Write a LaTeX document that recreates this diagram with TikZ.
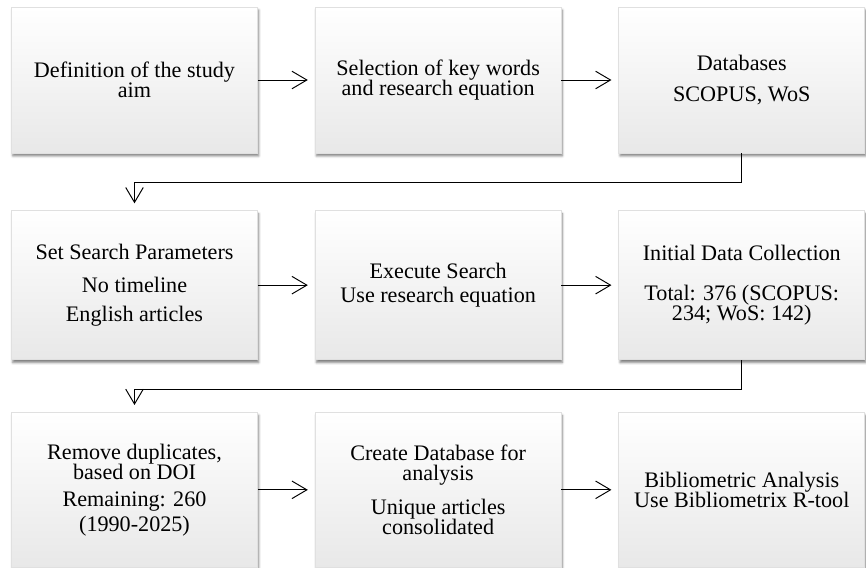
\documentclass[tikz,border=0pt]{standalone}
\usepackage{fontspec}
\setmainfont{Liberation Serif}
\usetikzlibrary{positioning,shadows.blur,arrows.meta}

\begin{document}
\begin{tikzpicture}[
    x=0.02cm, y=-0.02cm,
    node distance=1.14cm,
    every node/.style={align=center, font=\fontsize{12.6}{11.6}\selectfont},
    stage/.style={rectangle, draw=black!12, top color=white, bottom color=black!9,
        minimum width=4.92cm, minimum height=2.92cm, inner sep=2pt,
        blur shadow={shadow xshift=0.7pt, shadow yshift=-1.7pt, shadow blur radius=1.3pt, shadow opacity=50}},
    flow/.style={-{Straight Barb[length=8.5pt,width=10pt]}, line width=0.55pt, shorten >=0.14cm}
]
    \useasboundingbox (0,0) rectangle (866,568);
    % row 1
    \node[stage] (aim) at (134.5,80) {Definition of the study\\aim};
    \node[stage, right=of aim] (keys) {Selection of key words\\and research equation};
    \node[stage, right=of keys] (db) {Databases\\[0.22cm]SCOPUS, WoS};
    % row 2
    \node[stage, minimum height=2.98cm, below=of aim] (params)
        {Set Search Parameters\\[0.26cm]No timeline\\[0.18cm]English articles};
    \node[stage, minimum height=2.98cm, right=of params] (search)
        {Execute Search\\[0.08cm]Use research equation};
    \node[stage, minimum height=2.98cm, right=of search] (collect)
        {Initial Data Collection\\[0.4cm]Total: 376 (SCOPUS:\\234; WoS: 142)};
    % row 3
    \node[stage, minimum height=3.1cm, below=1.04cm of params] (dedup)
        {Remove duplicates,\\based on DOI\\[0.14cm]Remaining: 260\\[0.08cm](1990-2025)};
    \node[stage, minimum height=3.1cm, right=of dedup] (dbase)
        {Create Database for\\analysis\\[0.26cm]Unique articles\\consolidated};
    \node[stage, minimum height=3.1cm, right=of dbase] (biblio)
        {Bibliometric Analysis\\Use Bibliometrix R-tool};

    \draw[flow] (aim) -- (keys);
    \draw[flow] (keys) -- (db);
    \draw[flow] (db.south) -- ++(0,29) -| (params.north);
    \draw[flow] (params) -- (search);
    \draw[flow] (search) -- (collect);
    \draw[flow] (collect.south) -- ++(0,29) -| (dedup.north);
    \draw[flow] (dedup) -- (dbase);
    \draw[flow] (dbase) -- (biblio);
\end{tikzpicture}
\end{document}
